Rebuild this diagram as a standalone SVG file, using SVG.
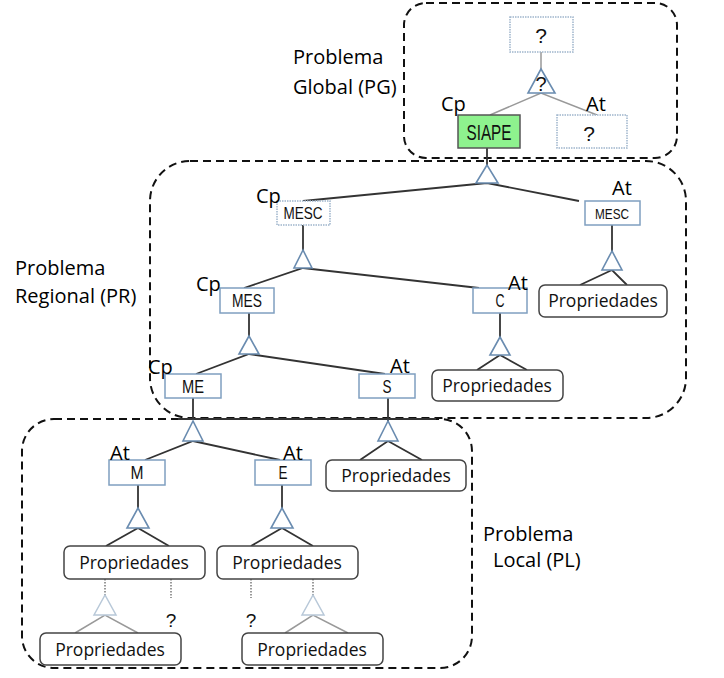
<svg xmlns="http://www.w3.org/2000/svg" width="724" height="678" viewBox="0 0 724 678">
<style>
.reg{fill:none;stroke:#111;stroke-width:2;stroke-dasharray:8,5}
.ln{stroke:#333;stroke-width:1.8;fill:none}
.gl{stroke:#999;stroke-width:1.5;fill:none}
.dl{stroke:#999;stroke-width:2;stroke-dasharray:1.5,1.5;fill:none}
.tri{fill:#fff;stroke:#6a8cb0;stroke-width:1.6}
.ltri{fill:#fff;stroke:#b8c8d8;stroke-width:1.5}
.nb{fill:#fff;stroke:#7f9fc0;stroke-width:1.5}
.nd{fill:#fff;stroke:#9fb5cc;stroke-width:1.5;stroke-dasharray:1.5,1}
.pb{fill:#fff;stroke:#444;stroke-width:1.5}
.nt{font-family:"Liberation Sans",sans-serif;fill:#111;text-anchor:middle}
.pt{font-family:"Open Sans","Liberation Sans",sans-serif;font-size:17.5px;fill:#111;text-anchor:middle}
.lb{font-family:"Open Sans","Liberation Sans",sans-serif;font-size:20px;fill:#000}
</style>
<g id="regions">
<rect class="reg" x="404" y="3" width="273" height="155" rx="22"/>
<rect class="reg" x="150" y="161" width="536" height="257" rx="40"/>
<rect class="reg" x="22" y="419" width="450" height="249" rx="32"/>
</g>
<g id="region-labels">
<text class="lb" x="293" y="64">Problema</text>
<text class="lb" x="293" y="94">Global (PG)</text>
<text class="lb" x="15" y="275">Problema</text>
<text class="lb" x="15" y="303">Regional (PR)</text>
<text class="lb" x="483" y="541">Problema</text>
<text class="lb" x="493" y="567">Local (PL)</text>
</g>
<g id="connectors">
<line class="gl" x1="541" y1="52" x2="541" y2="70"/>
<polyline class="gl" points="490,115 541,93 597,115"/>
<line class="ln" x1="487" y1="148" x2="487" y2="166"/>
<polyline class="ln" points="303,201 487,183 579,201"/>
<line class="ln" x1="303" y1="225" x2="303" y2="251"/>
<polyline class="ln" points="244,288 303,268 479,288"/>
<line class="ln" x1="612" y1="225" x2="612" y2="252"/>
<polyline class="ln" points="580,285 612,270 627,285"/>
<line class="ln" x1="249" y1="313" x2="249" y2="337"/>
<polyline class="ln" points="196,374 249,354 385,374"/>
<line class="ln" x1="500" y1="313" x2="500" y2="338"/>
<polyline class="ln" points="477,370 500,355 527,370"/>
<line class="ln" x1="193" y1="398" x2="193" y2="420"/>
<line class="ln" x1="178" y1="419" x2="436" y2="419"/>
<line class="ln" x1="388" y1="398" x2="388" y2="421"/>
<polyline class="ln" points="145,460 193,441 280,460"/>
<polyline class="ln" points="360,460 388,441 422,460"/>
<line class="ln" x1="138" y1="485" x2="138" y2="509"/>
<polyline class="ln" points="106,546 138,528 169,546"/>
<line class="ln" x1="282" y1="485" x2="282" y2="509"/>
<polyline class="ln" points="251,546 282,528 313,546"/>
<line class="dl" x1="105" y1="579" x2="105" y2="596"/>
<polyline class="gl" points="75,633 105,615 138,633"/>
<line class="dl" x1="171" y1="579" x2="171" y2="598"/>
<line class="dl" x1="251" y1="579" x2="251" y2="598"/>
<line class="dl" x1="313" y1="579" x2="313" y2="596"/>
<polyline class="gl" points="285,633 313,615 348,633"/>
</g>
<g id="triangles">
<polygon class="tri" points="541,69 528,93 555,93"/>
<text class="nt" x="541" y="91" style="font-size:20px">?</text>
<polygon class="tri" points="487,165 476,183 498,183"/>
<polygon class="tri" points="303,250 294,268 312,268"/>
<polygon class="tri" points="612,251 602,270 622,270"/>
<polygon class="tri" points="249,336 239,354 259,354"/>
<polygon class="tri" points="500,337 490,355 510,355"/>
<polygon class="tri" points="193,421 183,441 203,441"/>
<polygon class="tri" points="388,421 378,441 398,441"/>
<polygon class="tri" points="138,508 127,528 149,528"/>
<polygon class="tri" points="282,508 271,528 293,528"/>
<polygon class="ltri" points="105,595 94,615 116,615"/>
<polygon class="ltri" points="313,595 302,615 324,615"/>
</g>
<g id="node-q-top"><rect class="nd" x="510" y="17" width="63" height="35"/><text class="nt" x="541" y="43" style="font-size:21px">?</text></g>
<g id="node-siape"><rect x="458" y="115" width="62" height="33" fill="#8ef28e" stroke="#555" stroke-width="1.5"/><text class="nt" x="489" y="140" style="font-size:22px" textLength="45" lengthAdjust="spacingAndGlyphs">SIAPE</text></g>
<g id="node-q-right"><rect class="nd" x="557" y="115" width="70" height="33"/><text class="nt" x="589" y="141" style="font-size:21px">?</text></g>
<g id="node-mesc-l"><rect class="nd" x="277" y="201" width="53" height="24"/><text class="nt" x="303" y="219" style="font-size:16px" textLength="39" lengthAdjust="spacingAndGlyphs">MESC</text></g>
<g id="node-mesc-r"><rect class="nb" x="585" y="201" width="55" height="24"/><text class="nt" x="612" y="219" style="font-size:15px" textLength="34" lengthAdjust="spacingAndGlyphs">MESC</text></g>
<g id="node-mes"><rect class="nb" x="220" y="288" width="54" height="25"/><text class="nt" x="247" y="307" style="font-size:18px" textLength="30" lengthAdjust="spacingAndGlyphs">MES</text></g>
<g id="node-c"><rect class="nb" x="473" y="288" width="54" height="25"/><text class="nt" x="500" y="307" style="font-size:18px" textLength="9" lengthAdjust="spacingAndGlyphs">C</text></g>
<g id="node-me"><rect class="nb" x="165" y="374" width="56" height="24"/><text class="nt" x="193" y="393" style="font-size:18px" textLength="22" lengthAdjust="spacingAndGlyphs">ME</text></g>
<g id="node-s"><rect class="nb" x="359" y="374" width="56" height="24"/><text class="nt" x="387" y="393" style="font-size:18px" textLength="9" lengthAdjust="spacingAndGlyphs">S</text></g>
<g id="node-m"><rect class="nb" x="109" y="460" width="56" height="25"/><text class="nt" x="137" y="479" style="font-size:18px" textLength="13" lengthAdjust="spacingAndGlyphs">M</text></g>
<g id="node-e"><rect class="nb" x="255" y="460" width="56" height="25"/><text class="nt" x="283" y="479" style="font-size:18px" textLength="9" lengthAdjust="spacingAndGlyphs">E</text></g>
<g id="props-mesc"><rect class="pb" x="539" y="285" width="128" height="32" rx="6"/><text class="pt" x="603" y="307">Propriedades</text></g>
<g id="props-c"><rect class="pb" x="432" y="370" width="131" height="31" rx="6"/><text class="pt" x="497" y="392">Propriedades</text></g>
<g id="props-s"><rect class="pb" x="326" y="460" width="140" height="31" rx="6"/><text class="pt" x="396" y="482">Propriedades</text></g>
<g id="props-m"><rect class="pb" x="64" y="546" width="141" height="33" rx="6"/><text class="pt" x="134" y="569">Propriedades</text></g>
<g id="props-e"><rect class="pb" x="217" y="546" width="141" height="33" rx="6"/><text class="pt" x="287" y="569">Propriedades</text></g>
<g id="props-m2"><rect class="pb" x="40" y="633" width="141" height="32" rx="6"/><text class="pt" x="110" y="656">Propriedades</text></g>
<g id="props-e2"><rect class="pb" x="242" y="633" width="141" height="32" rx="6"/><text class="pt" x="312" y="656">Propriedades</text></g>
<g id="q-marks">
<text class="nt" x="171" y="627" style="font-size:19px">?</text>
<text class="nt" x="251" y="627" style="font-size:19px">?</text>
</g>
<g id="role-labels">
<text class="lb" x="441" y="111">Cp</text>
<text class="lb" x="586" y="111">At</text>
<text class="lb" x="256" y="203">Cp</text>
<text class="lb" x="612" y="195">At</text>
<text class="lb" x="196" y="291">Cp</text>
<text class="lb" x="508" y="290">At</text>
<text class="lb" x="148" y="374">Cp</text>
<text class="lb" x="390" y="373">At</text>
<text class="lb" x="110" y="460">At</text>
<text class="lb" x="283" y="460">At</text>
</g>
</svg>
